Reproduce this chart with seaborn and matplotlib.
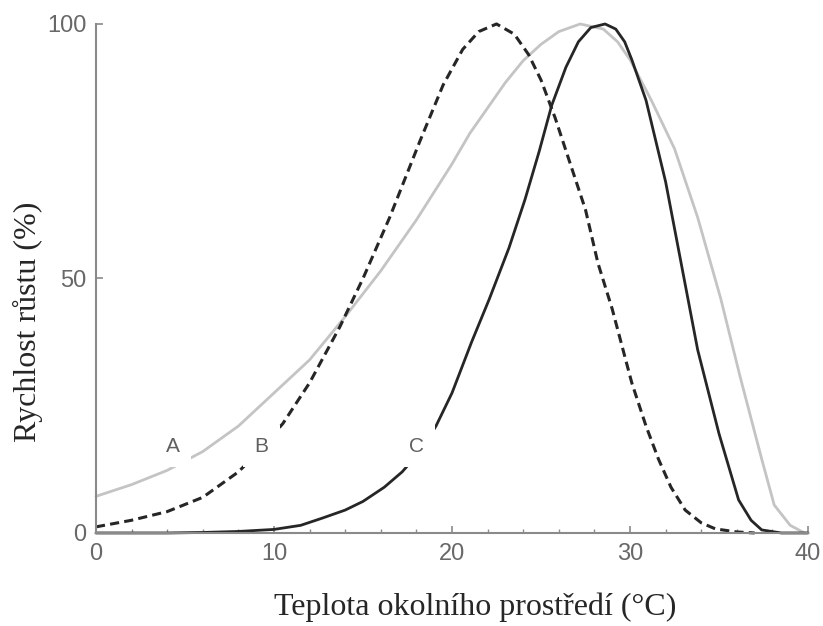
import numpy as np
import pandas as pd
import seaborn as sns
from matplotlib import pyplot as plt
from matplotlib.ticker import MultipleLocator

# hodnoty: teplota (°C) a rychlost růstu (%)
a_temp = [0, 2, 4, 6, 8, 10, 12, 14, 16, 18, 20, 21, 22, 23, 24, 25, 26, 27.2,
          28.5, 29.3, 30, 31.2, 32.5, 33.8, 35.1, 36.2, 37.4, 38.1, 39, 39.8]
a_rate = [7.2, 9.5, 12.3, 16, 21, 27.5, 34, 42.5, 51.5, 61.5, 72.5, 78.5, 83.5,
          88.5, 92.8, 96, 98.5, 100, 99, 96.5, 93, 85, 75.5, 62, 46, 30.5, 14.5,
          5.5, 1.5, 0]

b_temp = [0, 2, 4, 6, 8, 9, 10.5, 12, 13.7, 15, 16.5, 18.2, 19.5, 20.6, 21.5,
          22.5, 23.5, 24.3, 25, 25.8, 26.6, 27.5, 28.2, 29, 30.1, 30.9, 31.6,
          32.3, 33.1, 34, 34.8, 36, 37]
b_rate = [1.2, 2.5, 4.2, 7, 12, 15.5, 21.5, 29.5, 40.5, 50, 62, 77, 88, 95, 98.5,
          100, 98, 94, 89, 81.5, 73, 63.5, 53, 44, 29.5, 21, 14.5, 9, 4.5, 2,
          0.8, 0.2, 0]

c_temp = [0, 4, 6, 8, 10, 11.5, 12.7, 14, 15, 16.2, 17.2, 18.2, 19.1, 20, 21.1,
          22.1, 23.2, 24.1, 24.9, 25.6, 26.4, 27.1, 27.8, 28.6, 29.2, 29.7, 30.1,
          30.9, 32, 32.9, 33.8, 35, 36.1, 36.8, 37.4, 38.5, 40]
c_rate = [0, 0, 0.1, 0.3, 0.7, 1.5, 2.9, 4.5, 6.2, 9, 12, 16, 21, 27.5, 37.5, 46,
          56, 65.5, 75, 84, 91.5, 96.5, 99.3, 100, 99, 96.5, 93, 85, 69, 52.5,
          36, 19.5, 6.5, 2.5, 0.6, 0, 0]

curve_names = ['A', 'B', 'C']
label_temp = [4.3, 9.3, 18.0]
label_rate = [17, 17, 17]

x_ticks = [0, 10, 20, 30, 40]
y_ticks = [0, 50, 100]

sns.set_style('ticks')
plt.rcParams['font.family'] = ['Liberation Sans', 'DejaVu Sans']

fig = plt.figure(figsize=(8.23, 6.26), dpi=100)
ax = fig.add_axes([0.1166, 0.1486, 0.8652, 0.8131])

df_a = pd.DataFrame({'t': a_temp, 'r': a_rate})
df_b = pd.DataFrame({'t': b_temp, 'r': b_rate})
df_c = pd.DataFrame({'t': c_temp, 'r': c_rate})

sns.lineplot(data=df_a, x='t', y='r', ax=ax, color='#c4c4c4', linewidth=2.0,
             estimator=None, sort=False)
sns.lineplot(data=df_b, x='t', y='r', ax=ax, color='#262626', linewidth=2.2,
             estimator=None, sort=False)
ax.lines[-1].set_dashes((3.0, 1.7))
sns.lineplot(data=df_c, x='t', y='r', ax=ax, color='#262626', linewidth=2.0,
             estimator=None, sort=False)
for ln in ax.lines:
    ln.set_clip_on(False)
    ln.set_solid_joinstyle('round')

for name, tx, ty in zip(curve_names, label_temp, label_rate):
    ax.text(tx, ty, name, ha='center', va='center', fontsize=15, color='#606060',
            bbox=dict(boxstyle='square,pad=0.55', fc='white', ec='none'))

ax.set_xlim(0, 40)
ax.set_ylim(0, 100)
ax.set_xticks(x_ticks)
ax.set_yticks(y_ticks)
ax.xaxis.set_minor_locator(MultipleLocator(2))

sns.despine(ax=ax)
for side in ['left', 'bottom']:
    ax.spines[side].set_color('#8a8a8a')
    ax.spines[side].set_linewidth(1.5)
ax.tick_params(which='major', direction='in', length=5, width=1.2, color='#8a8a8a',
               labelsize=17, labelcolor='#686868', pad=7)
ax.tick_params(which='minor', direction='in', length=3, width=1.0, color='#8a8a8a')

ax.set_xlabel('Teplota okolního prostředí (°C)', fontsize=23,
              family=['Liberation Serif', 'DejaVu Serif'])
ax.set_ylabel('Rychlost růstu (%)', fontsize=23,
              family=['Liberation Serif', 'DejaVu Serif'])
ax.xaxis.set_label_coords(0.532, -0.116)
ax.yaxis.set_label_coords(-0.075, 0.415)

fig.savefig('out.png', dpi=100)
